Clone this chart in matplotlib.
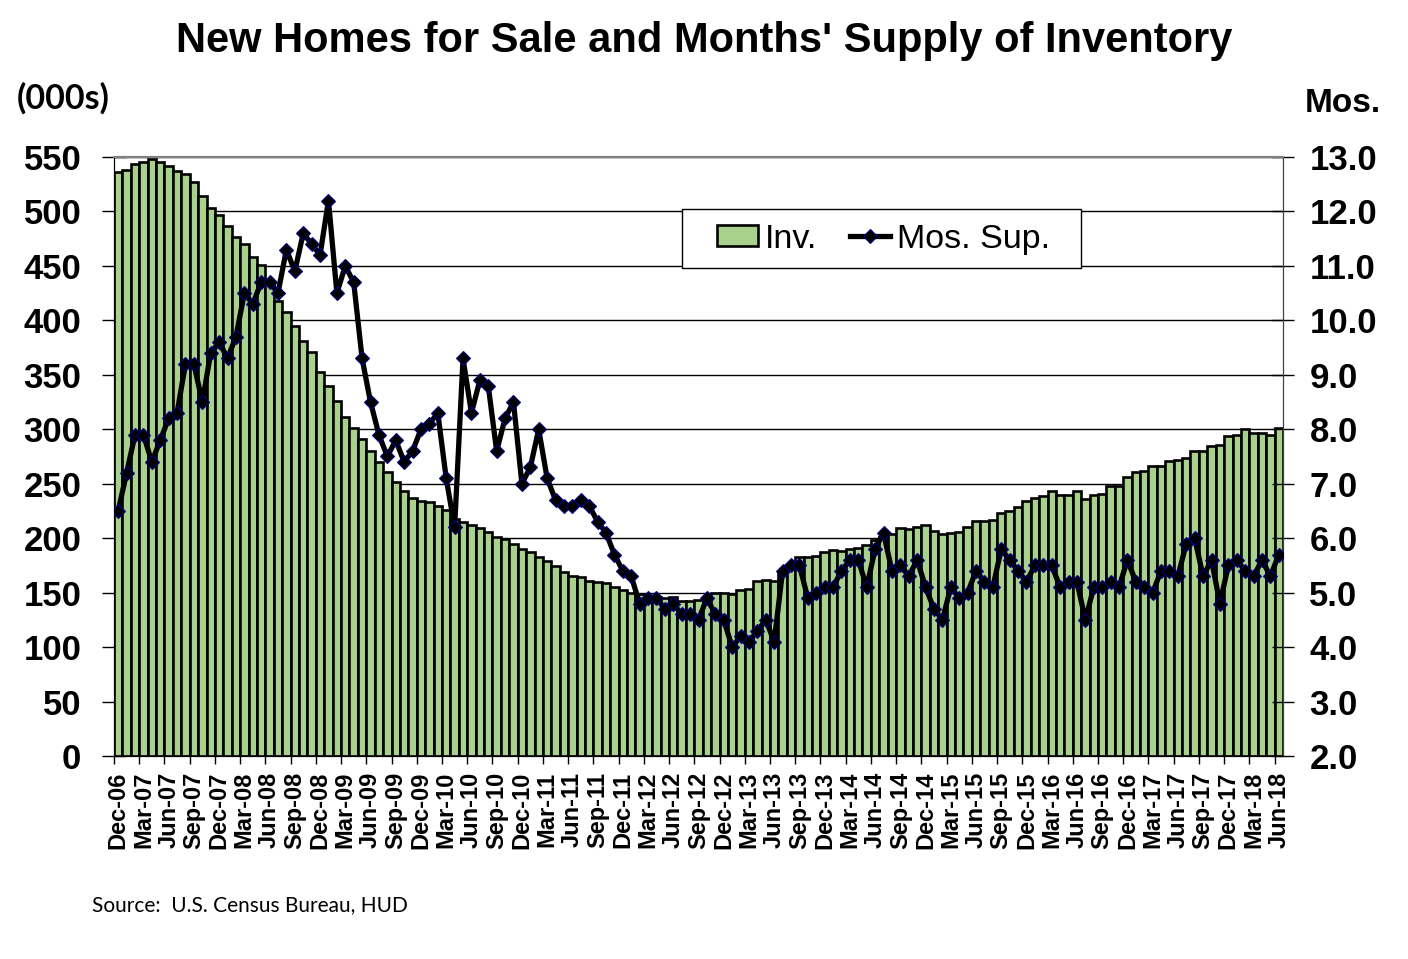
#Load Packages
import numpy as np
import pandas as pd
import matplotlib
matplotlib.use('Agg')
import matplotlib.pyplot as plt
from matplotlib.patches import Rectangle

#Data (monthly, Dec-06 .. Jun-18)
start_month = '2006-12-01'

# new homes for sale, thousands
inventory = [536, 538, 544, 545, 548, 545, 542, 537, 534, 527, 514, 503,
             497, 487, 477, 470, 458, 451, 435, 418, 408, 395, 381, 371,
             353, 340, 326, 311, 301, 291, 280, 270, 261, 252, 243, 237,
             234, 233, 230, 226, 218, 215, 212, 209, 206, 201, 199, 195,
             190, 187, 183, 179, 174, 169, 165, 164, 161, 160, 159, 155,
             152, 150, 149, 147, 146, 145, 146, 142, 142, 143, 146, 150,
             150, 149, 152, 153, 161, 162, 161, 170, 176, 183, 183, 184,
             187, 189, 188, 190, 191, 194, 198, 201, 204, 209, 208, 210,
             212, 207, 204, 205, 206, 210, 216, 216, 217, 223, 225, 229,
             234, 237, 239, 243, 240, 240, 243, 236, 240, 241, 248, 248,
             256, 261, 262, 266, 266, 271, 272, 274, 280, 280, 285, 286,
             294, 295, 300, 297, 297, 295, 301]

# months' supply
months_supply = [6.5,
                 7.2, 7.9, 7.9, 7.4, 7.8, 8.2, 8.3, 9.2, 9.2, 8.5, 9.4, 9.6,
                 9.3, 9.7, 10.5, 10.3, 10.7, 10.7, 10.5, 11.3, 10.9, 11.6, 11.4, 11.2,
                 12.2, 10.5, 11.0, 10.7, 9.3, 8.5, 7.9, 7.5, 7.8, 7.4, 7.6, 8.0,
                 8.1, 8.3, 7.1, 6.2, 9.3, 8.3, 8.9, 8.8, 7.6, 8.2, 8.5, 7.0,
                 7.3, 8.0, 7.1, 6.7, 6.6, 6.6, 6.7, 6.6, 6.3, 6.1, 5.7, 5.4,
                 5.3, 4.8, 4.9, 4.9, 4.7, 4.8, 4.6, 4.6, 4.5, 4.9, 4.6, 4.5,
                 4.0, 4.2, 4.1, 4.3, 4.5, 4.1, 5.4, 5.5, 5.5, 4.9, 5.0, 5.1,
                 5.1, 5.4, 5.6, 5.6, 5.1, 5.8, 6.1, 5.4, 5.5, 5.3, 5.6, 5.1,
                 4.7, 4.5, 5.1, 4.9, 5.0, 5.4, 5.2, 5.1, 5.8, 5.6, 5.4, 5.2,
                 5.5, 5.5, 5.5, 5.1, 5.2, 5.2, 4.5, 5.1, 5.1, 5.2, 5.1, 5.6,
                 5.2, 5.1, 5.0, 5.4, 5.4, 5.3, 5.9, 6.0, 5.3, 5.6, 4.8, 5.5,
                 5.6, 5.4, 5.3, 5.6, 5.3, 5.7]

left_ticks = list(range(0, 551, 50))
right_ticks = [2.0, 3.0, 4.0, 5.0, 6.0, 7.0, 8.0, 9.0, 10.0, 11.0, 12.0, 13.0]

months = pd.date_range(start_month, periods=len(inventory), freq='MS')
x = np.arange(len(inventory))
label_pos = x[::3]
labels = months[::3].strftime('%b-%y')

#Plot
bar_green = '#A9D18E'
fig = plt.figure(figsize=(14.08, 9.59), dpi=100)
ax1 = fig.add_axes([114 / 1408, 203 / 959, 1169 / 1408, 599 / 959])
ax2 = ax1.twinx()

ax1.bar(x, inventory, width=1.0, color=bar_green, edgecolor='black',
        linewidth=1.9, label='Inv.', zorder=2)
ax2.plot(x, months_supply, color='black', linewidth=3.8, marker='D',
         markersize=6.8, markerfacecolor='black', markeredgecolor='#000080',
         markeredgewidth=0.8, label='Mos. Sup.', zorder=3)

ax1.set_xlim(-0.5, len(inventory) - 0.5)
ax1.set_ylim(0, 550)
ax2.set_ylim(2, 13)

ax1.set_axisbelow(True)
ax1.yaxis.grid(True, color='black', linewidth=1.0)

ax1.set_yticks(left_ticks)
ax1.set_yticklabels([str(v) for v in left_ticks], fontsize=25,
                    fontweight='bold', family='Liberation Sans')
ax2.set_yticks(right_ticks)
ax2.set_yticklabels(['{0:.1f}'.format(v) for v in right_ticks], fontsize=25,
                    fontweight='bold', family='Liberation Sans')

ax1.set_xticks(label_pos)
ax1.set_xticklabels(labels, rotation=90, fontsize=17, fontweight='bold',
                    family='Liberation Sans')
ax1.set_xticks(label_pos - 0.5, minor=True)
ax1.tick_params(axis='x', which='major', length=0, pad=11.5)
ax1.tick_params(axis='x', which='minor', length=6, width=1, direction='out')
ax1.tick_params(axis='y', length=17, width=1, direction='inout', pad=15)
ax2.tick_params(axis='y', length=16, width=1, direction='inout', pad=11)

for ax in (ax1, ax2):
    ax.spines['top'].set_color('#808080')
    ax.spines['top'].set_linewidth(1.5)
    ax.spines['right'].set_color('#404040')
    ax.spines['left'].set_color('black')
    ax.spines['bottom'].set_color('black')

#Legend with a plain square box
box = Rectangle((0.4856, 0.814), 0.3414, 0.0987, transform=ax2.transAxes,
                facecolor='white', edgecolor='black', linewidth=1.0, zorder=4)
ax2.add_patch(box)
h1, l1 = ax1.get_legend_handles_labels()
h2, l2 = ax2.get_legend_handles_labels()
leg = ax2.legend(h1 + h2, l1 + l2, ncol=2, frameon=False,
                 loc='center left', bbox_to_anchor=(0.516, 0.863),
                 borderpad=0, borderaxespad=0, handlelength=1.2,
                 handleheight=0.55, handletextpad=0.2, columnspacing=0.95,
                 prop={'family': 'Liberation Sans', 'size': 24.5})
leg.set_zorder(5)

#Texts
fig.text(0.5, 1 - 41 / 959, "New Homes for Sale and Months' Supply of Inventory",
         ha='center', va='center', fontsize=30, fontweight='bold',
         family='Liberation Sans')
fig.text(17 / 1408, 1 - 98 / 959, '(000s)', ha='left', va='center',
         fontsize=24.5, fontweight='bold', family='Lato')
fig.text(1305 / 1408, 1 - 103 / 959, 'Mos.', ha='left', va='center',
         fontsize=24, fontweight='bold', family='Liberation Sans')
fig.text(92 / 1408, 1 - 905 / 959, 'Source:  U.S. Census Bureau, HUD',
         ha='left', va='center', fontsize=15, family='Lato')

fig.savefig('out.png', dpi=100)
